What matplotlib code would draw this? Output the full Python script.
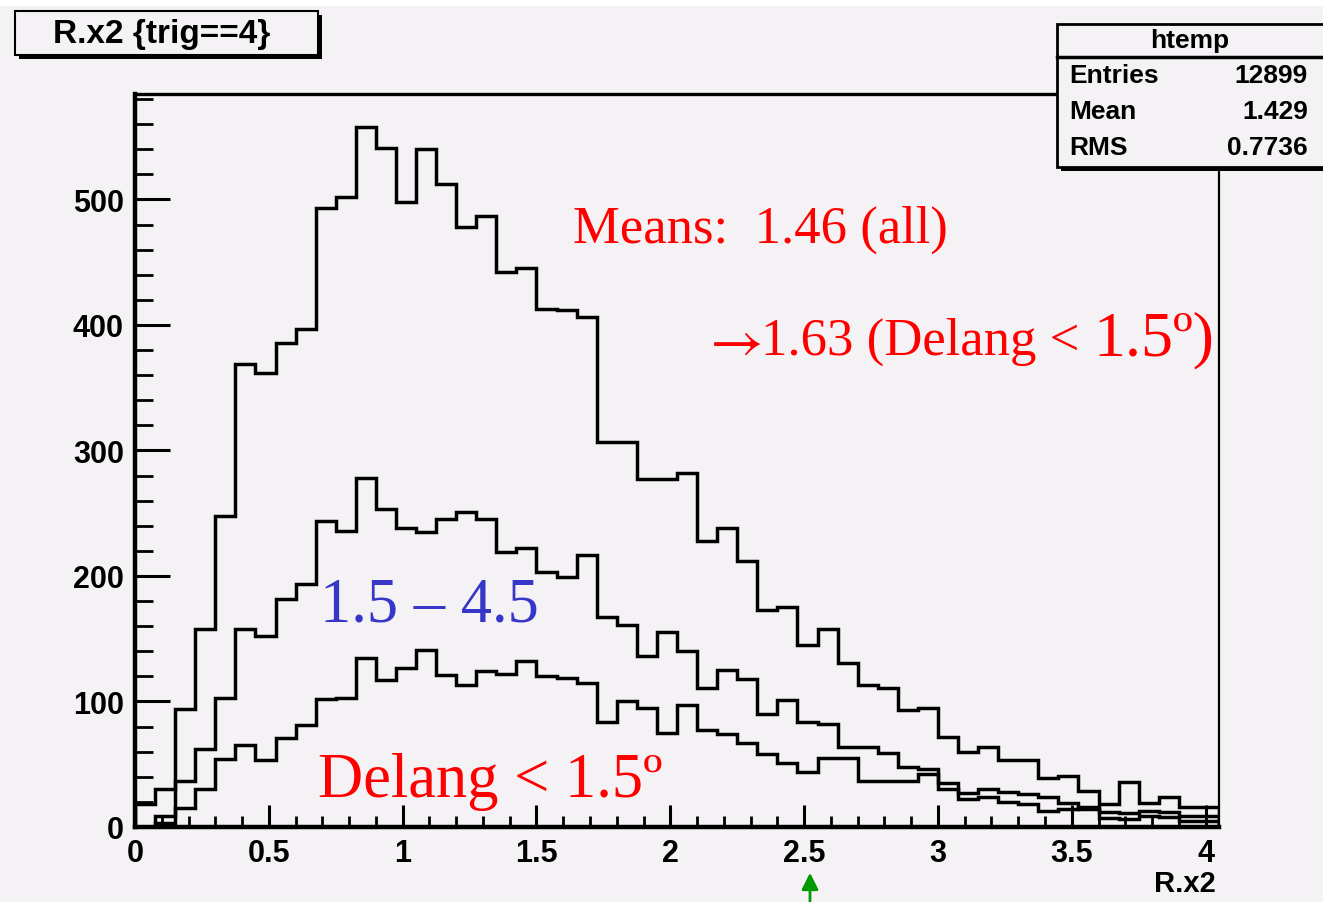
import numpy as np
import matplotlib
matplotlib.use("Agg")
import matplotlib.pyplot as plt
from matplotlib.patches import Rectangle
from matplotlib.ticker import MultipleLocator

plt.rcParams["mathtext.fontset"] = "stix"

# ---------------- data ----------------
bin_edges = np.linspace(0.0, 4.05, 55)          # 54 bins of width 0.075

all_events = [18, 30, 94, 158, 248, 369, 362, 386, 397, 493,
              502, 558, 541, 498, 540, 512, 478, 487, 442, 445,
              413, 412, 406, 307, 307, 277, 277, 282, 228, 238,
              212, 173, 175, 145, 158, 131, 113, 111, 93, 95,
              72, 60, 64, 53, 53, 39, 41, 29, 18, 36,
              19, 24, 16, 16]

delang_1p5_4p5 = [0, 9, 37, 62, 103, 158, 152, 182, 194, 244,
                  236, 278, 253, 238, 235, 245, 251, 245, 219, 222,
                  203, 199, 217, 167, 161, 136, 155, 140, 111, 125,
                  118, 90, 101, 84, 82, 64, 64, 59, 48, 46,
                  35, 27, 30, 28, 26, 24, 19, 14, 12, 11,
                  13, 12, 9, 9]

delang_lt_1p5 = [0, 3, 15, 30, 54, 65, 53, 71, 81, 102,
                 103, 135, 117, 127, 141, 121, 113, 124, 122, 132,
                 120, 119, 115, 84, 100, 95, 75, 97, 77, 74,
                 67, 58, 51, 44, 55, 55, 37, 37, 37, 42,
                 30, 22, 24, 20, 18, 13, 14, 16, 7, 6,
                 9, 8, 5, 5]

x_ticks = [0, 0.5, 1, 1.5, 2, 2.5, 3, 3.5, 4]
x_tick_labels = ["0", "0.5", "1", "1.5", "2", "2.5", "3", "3.5", "4"]
y_ticks = [0, 100, 200, 300, 400, 500]
y_tick_labels = ["0", "100", "200", "300", "400", "500"]

title_text = "R.x2 {trig==4}"
stats_name = "htemp"
stats_rows = [("Entries", "12899"), ("Mean", "1.429"), ("RMS", "0.7736")]
x_label = "R.x2"

# ---------------- figure ----------------
W, H = 1323, 903
fig = plt.figure(figsize=(W / 100, H / 100), dpi=100)
bg = "#F5F2F5"
fig.patch.set_facecolor(bg)

def fx(x):
    return x / W

def fy(y):
    return 1 - y / H

SANS = ["Liberation Sans", "DejaVu Sans"]
SERIF = ["Liberation Serif", "DejaVu Serif"]
SW = "bold"

# white strip at very top
fig.patches.append(Rectangle((0, fy(7)), 1, 7 / H, transform=fig.transFigure,
                             facecolor="white", edgecolor="none", zorder=0))

ax = fig.add_axes([fx(135), fy(828), (1219 - 135) / W, (828 - 95) / H])
ax.set_facecolor(bg)

for vals in (all_events, delang_1p5_4p5, delang_lt_1p5):
    ax.stairs(vals, bin_edges, color="black", lw=2.5, baseline=0)

ax.set_xlim(0, 4.05)
ax.set_ylim(0, 584)
ax.set_xticks(x_ticks)
ax.set_xticklabels(x_tick_labels, fontfamily=SANS, fontweight=SW)
ax.set_yticks(y_ticks)
ax.set_yticklabels(y_tick_labels, fontfamily=SANS, fontweight=SW)
ax.xaxis.set_minor_locator(MultipleLocator(0.1))
ax.yaxis.set_minor_locator(MultipleLocator(20))

ax.tick_params(axis="y", which="major", direction="in", length=25, width=2.2,
               labelsize=22, pad=8, right=False)
ax.tick_params(axis="y", which="minor", direction="in", length=13, width=2.0, right=False)
ax.tick_params(axis="x", which="major", direction="in", length=16, width=2.2,
               labelsize=22, pad=8, top=False)
ax.tick_params(axis="x", which="minor", direction="in", length=8, width=2.0, top=False)

ax.spines["left"].set_linewidth(3.2)
ax.spines["bottom"].set_linewidth(3.2)
ax.spines["top"].set_linewidth(2.4)
ax.spines["right"].set_linewidth(1.6)

fig.text(fx(1216), fy(884), x_label, ha="right", va="center", fontsize=21,
         family=SANS, fontweight=SW)

# ---------------- title box ----------------
fig.patches.append(Rectangle((fx(19), fy(60)), (322 - 19) / W, (60 - 16) / H,
                             transform=fig.transFigure, facecolor="black",
                             edgecolor="none", zorder=5))
fig.patches.append(Rectangle((fx(15), fy(56)), (318 - 15) / W, (56 - 12) / H,
                             transform=fig.transFigure, facecolor=bg,
                             edgecolor="black", lw=1.5, zorder=6))
fig.text(fx(162), fy(35), title_text, ha="center", va="center", fontsize=24,
         family=SANS, fontweight=SW, zorder=7)

# ---------------- stats box ----------------
fig.patches.append(Rectangle((fx(1061), fy(172)), (1330 - 1061) / W, (172 - 29) / H,
                             transform=fig.transFigure, facecolor="black",
                             edgecolor="none", zorder=5))
fig.patches.append(Rectangle((fx(1057), fy(168)), (1330 - 1057) / W, (168 - 25) / H,
                             transform=fig.transFigure, facecolor=bg,
                             edgecolor="black", lw=2.0, zorder=6))
fig.lines.append(plt.Line2D([fx(1057), fx(1323)], [fy(58), fy(58)],
                            transform=fig.transFigure, color="black", lw=2.5, zorder=7))
fig.text(fx(1190), fy(41), stats_name, ha="center", va="center", fontsize=19,
         family=SANS, fontweight=SW, zorder=8)
for i, (k, v) in enumerate(stats_rows):
    yy = 76 + 36 * i
    fig.text(fx(1069), fy(yy), k, ha="left", va="center", fontsize=19,
             family=SANS, fontweight=SW, zorder=8)
    fig.text(fx(1308), fy(yy), v, ha="right", va="center", fontsize=19,
             family=SANS, fontweight=SW, zorder=8)

# ---------------- annotations ----------------
red = "#FF0000"
blue = "#3636C8"
fig.text(fx(573), fy(243), "Means:  1.46 (all)", ha="left", va="baseline",
         fontsize=38, color=red, family=SERIF)
fig.text(fx(761), fy(341), r"$\rightarrow$", ha="right", va="center",
         fontsize=42, color=red)
fig.text(fx(1093), fy(355), "1.63 (Delang < ", ha="right", va="baseline",
         fontsize=38, color=red, family=SERIF)
fig.text(fx(1093), fy(355), "1.5\u00ba)", ha="left", va="baseline",
         fontsize=46, color=red, family=SERIF)
fig.text(fx(320), fy(622), "1.5 \u2013 4.5", ha="left", va="baseline",
         fontsize=45, color=blue, family=SERIF)
fig.text(fx(318), fy(797), "Delang < 1.5\u00ba", ha="left", va="baseline",
         fontsize=45, color=red, family=SERIF)

# green arrow under the 2.5 label
ax.annotate("", xy=(fx(810), fy(871)), xytext=(fx(810), fy(905)),
            xycoords="figure fraction", textcoords="figure fraction",
            arrowprops=dict(arrowstyle="-|>,head_length=1.0,head_width=0.5",
                            color="#009900", lw=2), annotation_clip=False)

fig.savefig("out.png", dpi=100, facecolor=fig.get_facecolor())
